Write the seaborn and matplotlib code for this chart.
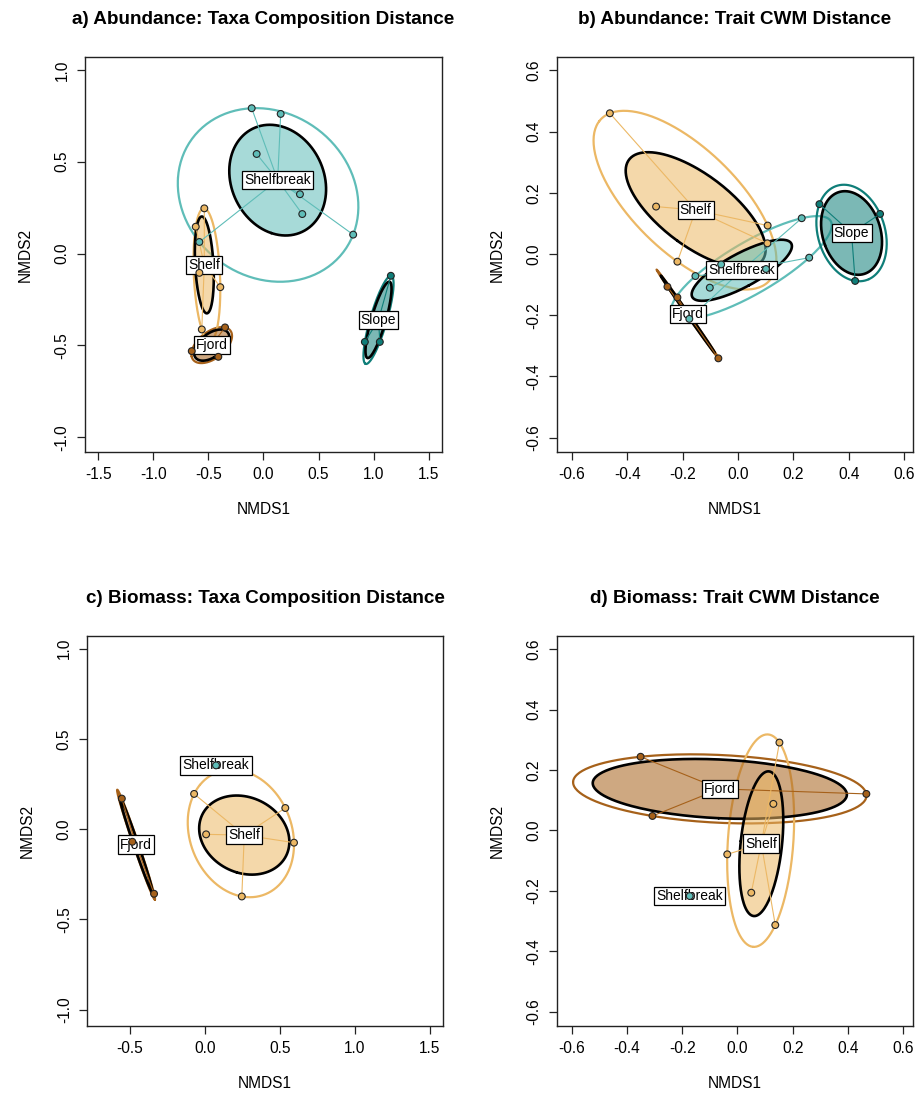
import numpy as np
import pandas as pd
import matplotlib
matplotlib.use('Agg')
import matplotlib.pyplot as plt
import seaborn as sns

# NMDS site scores, one set of arrays per panel
a_group = ['Fjord'] * 3 + ['Shelf'] * 5 + ['Shelfbreak'] * 7 + ['Slope'] * 3
a_x = [-0.349, -0.651, -0.410,
       -0.537, -0.615, -0.582, -0.392, -0.560,
       -0.107, 0.156, -0.062, 0.331, 0.352, 0.814, -0.582,
       1.156, 0.920, 1.056]
a_y = [-0.402, -0.531, -0.562,
       0.246, 0.146, -0.105, -0.183, -0.413,
       0.791, 0.760, 0.542, 0.323, 0.215, 0.103, 0.063,
       -0.121, -0.481, -0.481]

b_group = ['Fjord'] * 3 + ['Shelf'] * 5 + ['Shelfbreak'] * 7 + ['Slope'] * 3
b_x = [-0.255, -0.219, -0.071,
       -0.463, -0.296, -0.219, 0.107, 0.106,
       0.230, 0.257, -0.061, -0.154, -0.102, 0.101, -0.176,
       0.294, 0.513, 0.423]
b_y = [-0.107, -0.142, -0.341,
       0.460, 0.155, -0.025, 0.093, 0.035,
       0.117, -0.012, -0.034, -0.072, -0.110, -0.049, -0.212,
       0.163, 0.131, -0.088]

c_group = ['Fjord'] * 3 + ['Shelf'] * 5 + ['Shelfbreak']
c_x = [-0.555, -0.485, -0.340,
       -0.073, 0.535, 0.007, 0.593, 0.245,
       0.073]
c_y = [0.169, -0.070, -0.358,
       0.195, 0.117, -0.029, -0.075, -0.373,
       0.353]

d_group = ['Fjord'] * 3 + ['Shelf'] * 5 + ['Shelfbreak']
d_x = [-0.351, -0.308, 0.467,
       0.152, 0.130, -0.037, 0.050, 0.137,
       -0.173]
d_y = [0.244, 0.048, 0.121,
       0.291, 0.088, -0.079, -0.206, -0.313,
       -0.217]

titles = ['a) Abundance: Taxa Composition Distance',
          'b) Abundance: Trait CWM Distance',
          'c) Biomass: Taxa Composition Distance',
          'd) Biomass: Trait CWM Distance']

colors = {'Fjord': '#a6611a', 'Shelf': '#ecb865',
          'Shelfbreak': '#5fbdb8', 'Slope': '#0f7e79'}

tt = np.linspace(0, 2 * np.pi, 200)


def sd_ellipse(p):
    # 1 sd ellipse from the group covariance (like ordiellipse kind="sd")
    c = p.mean(axis=0)
    vals, vecs = np.linalg.eigh(np.cov(p.T))
    circ = np.vstack([np.cos(tt), np.sin(tt)])
    e = vecs @ (np.sqrt(np.clip(vals, 0, None))[:, None] * circ)
    return e[0] + c[0], e[1] + c[1]


def ehull(p, tol=1e-9):
    # minimum volume enclosing ellipse (Khachiyan)
    n, d = p.shape
    q = np.vstack([p.T, np.ones(n)])
    u = np.ones(n) / n
    for _ in range(20000):
        X = q @ np.diag(u) @ q.T
        m = np.einsum('ij,ji->i', q.T @ np.linalg.inv(X), q)
        j = np.argmax(m)
        step = (m[j] - d - 1) / ((d + 1) * (m[j] - 1))
        nu = (1 - step) * u
        nu[j] += step
        err = np.linalg.norm(nu - u)
        u = nu
        if err < tol:
            break
    c = p.T @ u
    A = np.linalg.inv(p.T @ np.diag(u) @ p - np.outer(c, c)) / d
    w, v = np.linalg.eigh(A)
    circ = np.vstack([np.cos(tt), np.sin(tt)])
    e = v @ ((1 / np.sqrt(w))[:, None] * circ)
    return e[0] + c[0], e[1] + c[1]


sns.set_style('white')
plt.rcParams['font.family'] = ['Liberation Sans', 'DejaVu Sans']
plt.rcParams['text.color'] = 'black'
plt.rcParams['axes.labelcolor'] = 'black'
plt.rcParams['xtick.color'] = 'black'
plt.rcParams['ytick.color'] = 'black'

fig = plt.figure(figsize=(9.2, 11.04), dpi=100)
boxes = [[0.0924, 0.5906, 0.3880, 0.3578],
         [0.6054, 0.5906, 0.3870, 0.3578],
         [0.0946, 0.0707, 0.3870, 0.3533],
         [0.6054, 0.0707, 0.3870, 0.3533]]
limits = [((-1.62, 1.62), (-1.08, 1.07)),
          ((-0.654, 0.632), (-0.647, 0.644)),
          ((-0.787, 1.587), (-1.09, 1.07)),
          ((-0.654, 0.636), (-0.647, 0.644))]
xticks = [np.arange(-1.5, 1.51, 0.5), np.arange(-0.6, 0.61, 0.2),
          np.arange(-0.5, 1.51, 0.5), np.arange(-0.6, 0.61, 0.2)]
yticks = [np.arange(-1.0, 1.01, 0.5), np.arange(-0.6, 0.61, 0.2),
          np.arange(-1.0, 1.01, 0.5), np.arange(-0.6, 0.61, 0.2)]

panels = [(a_group, a_x, a_y), (b_group, b_x, b_y),
          (c_group, c_x, c_y), (d_group, d_x, d_y)]

for i, (grp, xs, ys) in enumerate(panels):
    ax = fig.add_axes(boxes[i])
    df = pd.DataFrame({'group': grp, 'NMDS1': xs, 'NMDS2': ys})

    for g, sub in df.groupby('group', sort=False):
        col = colors[g]
        p = sub[['NMDS1', 'NMDS2']].to_numpy()
        cx, cy = p.mean(axis=0)
        if len(p) >= 3:
            hx, hy = ehull(p)
            ax.plot(hx, hy, color=col, lw=1.6, zorder=2)
            ex, ey = sd_ellipse(p)
            ax.fill(ex, ey, facecolor=col, alpha=0.55, lw=0, zorder=3)
            ax.plot(ex, ey, color='black', lw=1.9, zorder=3)
            for px, py in p:
                ax.plot([cx, px], [cy, py], color=col, lw=0.8, zorder=4)
        ax.text(cx, cy, g, ha='center', va='center', fontsize=10, zorder=5,
                bbox=dict(boxstyle='square,pad=0.16', fc='white', ec='black', lw=0.9))

    sns.scatterplot(data=df, x='NMDS1', y='NMDS2', hue='group', palette=colors,
                    s=24, edgecolor='#222222', linewidth=0.8, legend=False,
                    ax=ax, zorder=6)

    ax.set_xlim(limits[i][0])
    ax.set_ylim(limits[i][1])
    ax.set_xticks(xticks[i])
    ax.set_yticks(yticks[i])
    ax.set_xticklabels([f'{v:.1f}' for v in xticks[i]])
    ax.set_yticklabels([f'{v:.1f}' for v in yticks[i]], rotation=90, va='center')
    ax.tick_params(direction='out', length=6, width=0.9, labelsize=11.2,
                   color='#222222', pad=5, left=True, bottom=True)
    for sp in ax.spines.values():
        sp.set_visible(True)
        sp.set_color('#222222')
        sp.set_linewidth(1.0)
    ax.set_xlabel('NMDS1', fontsize=11.2, labelpad=14)
    ax.set_ylabel('NMDS2', fontsize=11.2, labelpad=16)
    ax.set_title(titles[i], fontsize=13.6, fontweight='bold', pad=24)

fig.savefig('out.png', dpi=100)
